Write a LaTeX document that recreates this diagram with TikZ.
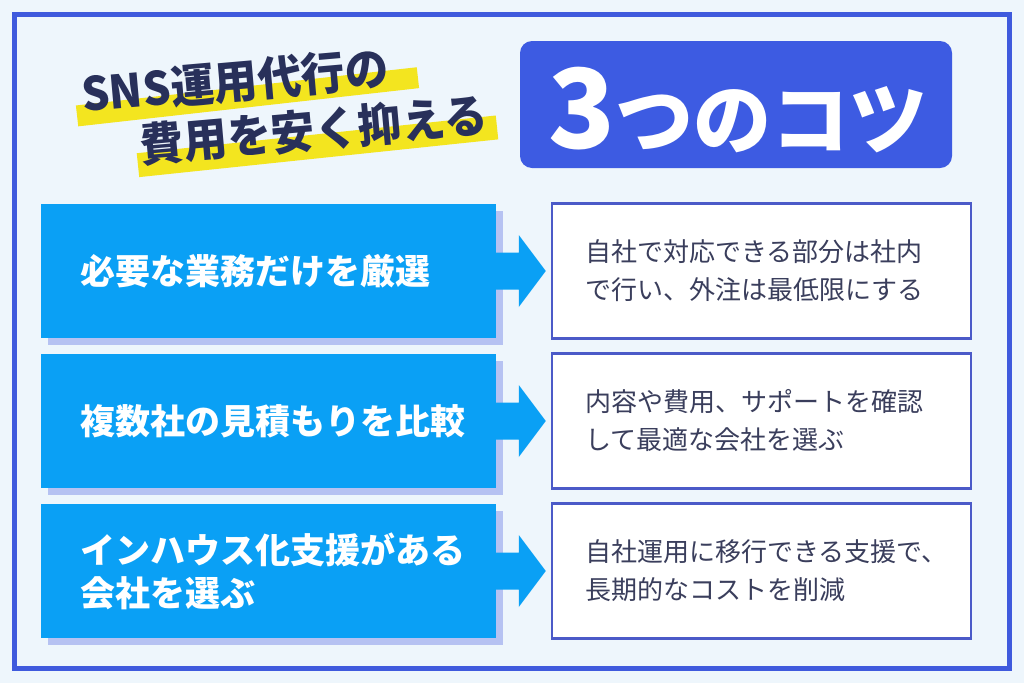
\documentclass[tikz,border=0pt]{standalone}
\usepackage{fontspec}
\setmainfont{Noto Sans CJK JP}
\usetikzlibrary{calc}
\definecolor{bgc}{HTML}{EEF6FC}
\definecolor{framec}{HTML}{3F5ADD}
\definecolor{titlec}{HTML}{3D5BE2}
\definecolor{navyc}{HTML}{28305A}
\definecolor{yellowc}{HTML}{F3E51F}
\definecolor{skyc}{HTML}{0AA0F5}
\definecolor{shadowc}{HTML}{B6C2F2}
\definecolor{rborder}{HTML}{4B5AC8}
\definecolor{rtextc}{HTML}{3A3E5C}
\tikzset{
  framebox/.style={draw=framec, line width=5pt},
  titlebox/.style={fill=titlec, rounded corners=12pt, minimum width=432pt, minimum height=127pt, inner sep=0pt},
  hlbar/.style={fill=yellowc, inner sep=0pt},
  headtext/.style={text=navyc, inner sep=0pt, align=left, font=\bfseries\fontsize{46}{55.4}\selectfont},
  lbox/.style={fill=skyc, minimum width=455pt, minimum height=134pt, inner sep=0pt},
  ltext/.style={text=white, inner sep=0pt, align=left, anchor=west, font=\bfseries\fontsize{35}{43}\selectfont},
  rbox/.style={draw=rborder, line width=2.5pt, fill=white, minimum width=419pt, minimum height=135pt, inner sep=0pt},
  rtext/.style={text=rtextc, inner sep=0pt, align=left, anchor=west, font=\fontsize{26}{38}\selectfont},
  arrowc/.style={fill=skyc}
}
\begin{document}
\begin{tikzpicture}[x=1pt,y=-1pt]
\useasboundingbox (0,0) rectangle (1024,683);
\fill[bgc] (0,0) rectangle (1024,683);
\draw[framebox] (14.5,14.5) rectangle (1009.5,668.5);

% heading
\node[hlbar, rotate=6.4, minimum width=343pt, minimum height=21pt] (hl1) at (247.5,96.8) {};
\node[hlbar, rotate=6.0, minimum width=361pt, minimum height=24pt] (hl2) at (317.5,146.3) {};
\node[headtext, rotate=5, xscale=0.95, anchor=base west] (head) at (87.8,167.2)
  {SNS運用代行の\\\hspace*{57pt}費用を安く抑える};

\node[titlebox] (tbox) at (736,104.5) {};
\node[text=white, inner sep=0pt, anchor=base, font=\bfseries] (ttext) at (738,148)
  {{\fontsize{110}{110}\selectfont 3}{\fontsize{78}{78}\selectfont つのコツ}};

% rows
\node[lbox] (l1) at (268.5,271) {};
\node[lbox] (l2) at (268.5,421) {};
\node[lbox] (l3) at (268.5,571) {};
\fill[shadowc] ($(l1.north west)+(7,7)$) rectangle ($(l1.south east)+(7,7)$);
\fill[shadowc] ($(l2.north west)+(7,7)$) rectangle ($(l2.south east)+(7,7)$);
\fill[shadowc] ($(l3.north west)+(7,7)$) rectangle ($(l3.south east)+(7,7)$);
\node[lbox] at (l1) {};
\node[lbox] at (l2) {};
\node[lbox] at (l3) {};

\node[rbox] (r1) at (761.5,271) {};
\node[rbox] (r2) at (761.5,421) {};
\node[rbox] (r3) at (761.5,571) {};

\foreach \a/\b in {l1/r1,l2/r2,l3/r3}{
  \fill[arrowc] ($(\a.east)+(0,-18.5)$) -- ($(\b.west)+(-32,-18.5)$) -- ($(\b.west)+(-32,-36)$)
    -- ($(\b.west)+(-5,0)$) -- ($(\b.west)+(-32,36)$) -- ($(\b.west)+(-32,18.5)$)
    -- ($(\a.east)+(0,18.5)$) -- cycle;
}

\node[ltext] (t1) at (80,271) {必要な業務だけを厳選};
\node[ltext] (t2) at (80,421) {複数社の見積もりを比較};
\node[ltext] (t3) at (80,571) {インハウス化支援がある\\会社を選ぶ};

\node[rtext] (s1) at (585,271) {自社で対応できる部分は社内\\で行い、外注は最低限にする};
\node[rtext] (s2) at (585,421) {内容や費用、サポートを確認\\して最適な会社を選ぶ};
\node[rtext] (s3) at (585,571) {自社運用に移行できる支援で、\\長期的なコストを削減};
\end{tikzpicture}
\end{document}
